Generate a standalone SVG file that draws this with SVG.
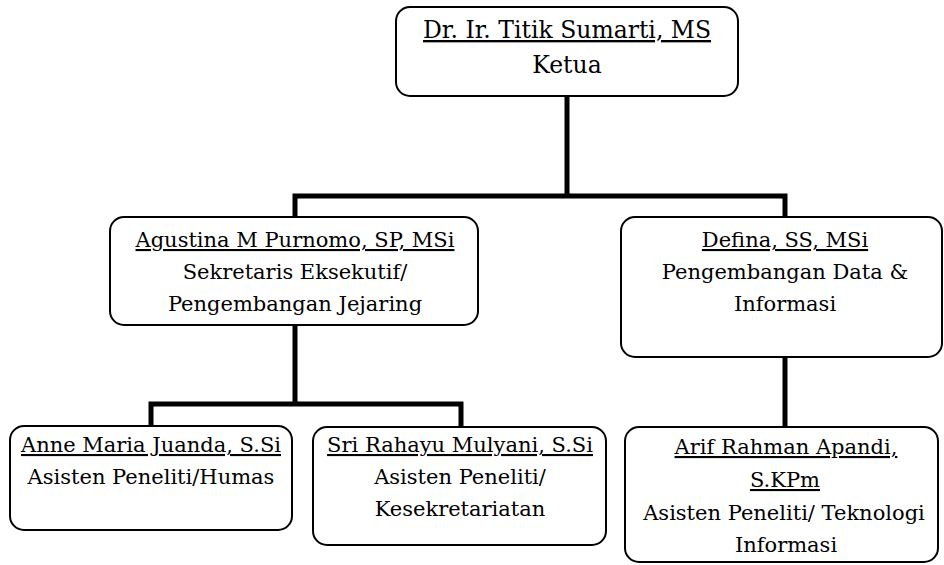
<svg xmlns="http://www.w3.org/2000/svg" width="944" height="565" viewBox="0 0 944 565">
<style>
.box{fill:#fff;stroke:#000;stroke-width:2}
.con{stroke:#000;stroke-width:5;fill:none;stroke-linecap:square}
.t{font-family:"DejaVu Serif","Liberation Serif",serif;font-size:21px;fill:#000;text-anchor:middle}
.big{font-size:23.5px}
.u{text-decoration:underline}
</style>
<rect width="944" height="565" fill="#fff"/>
<g id="connectors">
<path class="con" d="M567 96V196M295 196H785M295 196V217M785 196V217"/>
<path class="con" d="M295 325V404M151 404H461M151 404V426M461 404V427"/>
<path class="con" d="M785 357V427"/>
</g>
<g id="ketua">
<rect class="box" x="396" y="7" width="342" height="89" rx="14"/>
<text class="t big u" x="567" y="38">Dr. Ir. Titik Sumarti, MS</text>
<text class="t big" x="567" y="73">Ketua</text>
</g>
<g id="agustina">
<rect class="box" x="110" y="217" width="368" height="108" rx="14"/>
<text class="t u" x="295" y="247">Agustina M Purnomo, SP, MSi</text>
<text class="t" x="295" y="279">Sekretaris Eksekutif/</text>
<text class="t" x="295" y="311">Pengembangan Jejaring</text>
</g>
<g id="defina">
<rect class="box" x="621" y="217" width="321" height="140" rx="14"/>
<text class="t u" x="785" y="247">Defina, SS, MSi</text>
<text class="t" x="785" y="279">Pengembangan Data &amp;</text>
<text class="t" x="785" y="311">Informasi</text>
</g>
<g id="anne">
<rect class="box" x="10" y="426" width="282" height="104" rx="14"/>
<text class="t u" x="151" y="452">Anne Maria Juanda, S.Si</text>
<text class="t" x="151" y="484">Asisten Peneliti/Humas</text>
</g>
<g id="sri">
<rect class="box" x="313" y="427" width="293" height="118" rx="14"/>
<text class="t u" x="460" y="452">Sri Rahayu Mulyani, S.Si</text>
<text class="t" x="460" y="484">Asisten Peneliti/</text>
<text class="t" x="460" y="516">Kesekretariatan</text>
</g>
<g id="arif">
<rect class="box" x="625" y="427" width="313" height="135" rx="14"/>
<text class="t u" x="786" y="454">Arif Rahman Apandi,</text>
<text class="t u" x="785" y="487">S.KPm</text>
<text class="t" x="784" y="520">Asisten Peneliti/ Teknologi</text>
<text class="t" x="786" y="552">Informasi</text>
</g>
</svg>
